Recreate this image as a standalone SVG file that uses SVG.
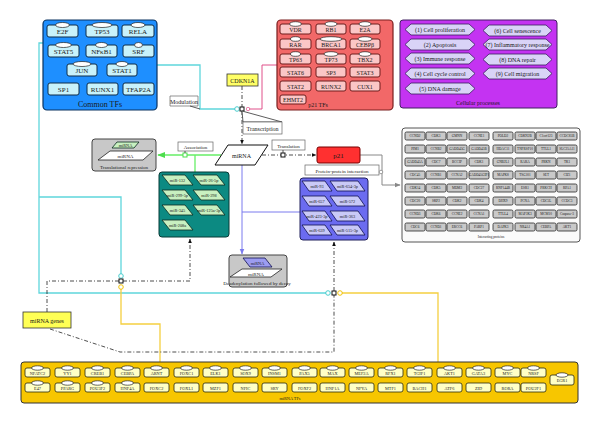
<svg xmlns="http://www.w3.org/2000/svg" width="600" height="424" viewBox="0 0 600 424">
<defs>
<style>
text{font-family:"Liberation Serif","DejaVu Serif",serif;fill:#1a1a1a;text-anchor:middle}
.ctf{fill:#c8f2fb;stroke:#0e2c48;stroke-width:1}
.p21n{fill:#fbc6c6;stroke:#6e1c1c;stroke-width:1}
.ell{fill:#fff;stroke:#222;stroke-width:.7}
.cp{fill:#d9d3f7;stroke:#3a2060;stroke-width:.8}
.ip{fill:#c9c9c9;stroke:#2a2a2a;stroke-width:.8}
.tf{fill:#ffffc6;stroke:#2a2a10;stroke-width:.8}
.lbl{fill:#fff;stroke:#666;stroke-width:.7}
.dd{fill:none;stroke:#222;stroke-width:.8;stroke-dasharray:4 2 1 2}
.gm{fill:#c8f0c0;stroke:#0a2a20;stroke-width:.8}
.bm{fill:#c9c9f7;stroke:#101050;stroke-width:.8}
.jn{fill:#fff;stroke:#111;stroke-width:1}
.s7{font-size:7px}
.s6{font-size:6px}
.s5{font-size:5px}
.s4{font-size:4.3px}
.s3{font-size:3.4px}
</style>
<marker id="ab" viewBox="0 0 10 10" refX="9" refY="5" markerWidth="6" markerHeight="6" orient="auto-start-reverse"><path d="M0,1 L10,5 L0,9z" fill="#111"/></marker>
<marker id="ag" viewBox="0 0 10 10" refX="9" refY="5" markerWidth="6" markerHeight="6" orient="auto"><path d="M0,1 L10,5 L0,9z" fill="#4ddd4d"/></marker>
<marker id="abl" viewBox="0 0 10 10" refX="9" refY="5" markerWidth="6" markerHeight="6" orient="auto"><path d="M0,1 L10,5 L0,9z" fill="#7a7aee"/></marker>
<marker id="agr" viewBox="0 0 10 10" refX="9" refY="5" markerWidth="6" markerHeight="6" orient="auto"><path d="M0,1 L10,5 L0,9z" fill="#888"/></marker>
<marker id="oc" viewBox="0 0 10 10" refX="5" refY="5" markerWidth="5" markerHeight="5" orient="auto"><circle cx="5" cy="5" r="3.5" fill="#fff" stroke="#4cc" stroke-width="1.5"/></marker>
<marker id="oy" viewBox="0 0 10 10" refX="5" refY="5" markerWidth="5" markerHeight="5" orient="auto"><circle cx="5" cy="5" r="3.5" fill="#fff" stroke="#f0c000" stroke-width="1.5"/></marker>
<marker id="op" viewBox="0 0 10 10" refX="5" refY="5" markerWidth="5" markerHeight="5" orient="auto"><circle cx="5" cy="5" r="3.5" fill="#fff" stroke="#e0508a" stroke-width="1.5"/></marker>
</defs>
<rect width="600" height="424" fill="#fff"/>

<g id="connectors">
  <!-- cyan -->
  <polyline points="157,65 200,65 200,109 237,109" fill="none" stroke="#5fd6dc" stroke-width="1.3" marker-end="url(#oc)"/>
  <polyline points="43,43 39,43 39,293 328,293" fill="none" stroke="#5fd6dc" stroke-width="1.3" marker-end="url(#oc)"/>
  <polyline points="39,197 121,197 121,276" fill="none" stroke="#5fd6dc" stroke-width="1.3" marker-end="url(#oc)"/>
  <!-- pink -->
  <polyline points="277,65 262,65 262,109 248,109" fill="none" stroke="#e0508a" stroke-width="1" marker-end="url(#op)"/>
  <!-- yellow -->
  <polyline points="340,293 438,293 438,362" fill="none" stroke="#f5cf40" stroke-width="1.3" marker-start="url(#oy)"/>
  <polyline points="121,287 121,324 160,324 160,362" fill="none" stroke="#f5cf40" stroke-width="1.3" marker-start="url(#oy)"/>
  <!-- transcription -->
  <line x1="242" y1="86" x2="242" y2="107" class="dd"/>
  <line x1="242" y1="111" x2="242" y2="144" class="dd" marker-end="url(#ab)"/>
  <!-- translation -->
  <line x1="262" y1="155" x2="316" y2="155" class="dd" marker-end="url(#ab)"/>
  <!-- association -->
  <line x1="221" y1="155" x2="158" y2="155" stroke="#66ee66" stroke-width="1.3" marker-end="url(#ag)"/>
  <line x1="195" y1="155" x2="195" y2="172" stroke="#66ee66" stroke-width="1.3"/>
  <!-- blue to deadenylation -->
  <line x1="242" y1="165" x2="242" y2="254" stroke="#7a7aee" stroke-width="1" marker-end="url(#abl)"/>
  <line x1="242" y1="212" x2="300" y2="212" stroke="#7a7aee" stroke-width="1"/>
  <!-- p21 to proteins -->
  <polyline points="360,155 382,155 382,185 400,185" fill="none" stroke="#888" stroke-width="1" marker-end="url(#agr)"/>
  <!-- miRNA genes dash-dot -->
  <polyline points="47,312 47,281 119,281" class="dd"/>
  <polyline points="123,281 190,281 190,239" class="dd" marker-end="url(#ab)"/>
  <line x1="334" y1="291" x2="334" y2="242" class="dd" marker-end="url(#ab)"/>
  <polyline points="50,329 120,352 334,352 334,295" class="dd"/>
  <!-- junctions -->
  <rect x="240" y="107" width="4" height="4" class="jn"/>
  <rect x="281" y="153" width="4" height="4" class="jn"/>
  <rect x="183" y="153" width="4" height="4" fill="#fff" stroke="#4ddd4d"/>
  <rect x="119" y="279" width="4" height="4" class="jn"/>
  <rect x="332" y="291" width="4" height="4" class="jn"/>
</g>

<g id="common-tfs">
  <rect x="43" y="20" width="114" height="90" rx="4" fill="#1e8fff" stroke="#0a3360" stroke-width="1.2"/>
  <rect x="47" y="25" width="31" height="12" rx="2" class="ctf"/><ellipse cx="62.5" cy="25" rx="7" ry="2.5" class="ell"/><text x="62.5" y="34" class="s7">E2F</text>
  <rect x="86" y="25" width="32" height="12" rx="2" class="ctf"/><ellipse cx="102" cy="25" rx="10" ry="2.5" class="ell"/><text x="102" y="34" class="s7">TP53</text>
  <rect x="122" y="25" width="32" height="12" rx="2" class="ctf"/><ellipse cx="138" cy="25" rx="7" ry="2.5" class="ell"/><text x="138" y="34" class="s7">RELA</text>
  <rect x="48" y="45" width="31" height="12" rx="2" class="ctf"/><ellipse cx="63.5" cy="45" rx="8" ry="2.5" class="ell"/><text x="63.5" y="54" class="s7">STAT5</text>
  <rect x="86" y="45" width="31" height="12" rx="2" class="ctf"/><ellipse cx="101.5" cy="45" rx="6" ry="2.5" class="ell"/><text x="101.5" y="54" class="s7">NFκB1</text>
  <rect x="123" y="45" width="31" height="12" rx="2" class="ctf"/><ellipse cx="138.5" cy="45" rx="4" ry="2.5" class="ell"/><text x="138.5" y="54" class="s7">SRF</text>
  <rect x="67" y="64" width="30" height="12" rx="2" class="ctf"/><ellipse cx="82" cy="64" rx="9" ry="2.5" class="ell"/><text x="82" y="73" class="s7">JUN</text>
  <rect x="107" y="64" width="30" height="12" rx="2" class="ctf"/><ellipse cx="122" cy="64" rx="6" ry="2.5" class="ell"/><text x="122" y="73" class="s7">STAT1</text>
  <rect x="48" y="83" width="31" height="12" rx="2" class="ctf"/><text x="63.5" y="92" class="s7">SP1</text>
  <rect x="87" y="83" width="31" height="12" rx="2" class="ctf"/><text x="102.5" y="92" class="s7">RUNX1</text>
  <rect x="123" y="83" width="31" height="12" rx="2" class="ctf"/><text x="138.5" y="92" class="s7">TFAP2A</text>
  <text x="100" y="107" style="font-size:8px">Common TFs</text>
</g>

<g id="modulation">
  <polygon points="170,96 198,96 198,106 170,106" class="lbl"/>
  <line x1="190" y1="106" x2="200" y2="109" stroke="#333" stroke-width=".8"/>
  <text x="184" y="103.5" class="s6">Modulation</text>
</g>

<g id="p21-tfs">
  <rect x="277" y="20" width="116" height="90" rx="4" fill="#f26868" stroke="#7a1e1e" stroke-width="1.2"/>
  <rect x="280" y="24" width="31" height="10" rx="2" class="p21n"/><ellipse cx="295.5" cy="24" rx="6" ry="2.3" class="ell"/><text x="295.5" y="32" class="s6">VDR</text>
  <rect x="316" y="24" width="30" height="10" rx="2" class="p21n"/><ellipse cx="331" cy="24" rx="6" ry="2.3" class="ell"/><text x="331" y="32" class="s6">RB1</text>
  <rect x="350" y="24" width="30" height="10" rx="2" class="p21n"/><ellipse cx="365" cy="24" rx="6" ry="2.3" class="ell"/><text x="365" y="32" class="s6">E2A</text>
  <rect x="280" y="39" width="31" height="10" rx="2" class="p21n"/><ellipse cx="295.5" cy="39" rx="5" ry="2.3" class="ell"/><text x="295.5" y="47" class="s6">RAR</text>
  <rect x="316" y="39" width="30" height="10" rx="2" class="p21n"/><ellipse cx="331" cy="39" rx="11" ry="2.3" class="ell"/><text x="331" y="47" class="s6">BRCA1</text>
  <rect x="350" y="39" width="30" height="10" rx="2" class="p21n"/><ellipse cx="365" cy="39" rx="7" ry="2.3" class="ell"/><text x="365" y="47" class="s6">CEBPβ</text>
  <rect x="280" y="54" width="31" height="10" rx="2" class="p21n"/><ellipse cx="295.5" cy="54" rx="5" ry="2.3" class="ell"/><text x="295.5" y="62" class="s6">TP63</text>
  <rect x="316" y="54" width="30" height="10" rx="2" class="p21n"/><ellipse cx="331" cy="54" rx="7" ry="2.3" class="ell"/><text x="331" y="62" class="s6">TP73</text>
  <rect x="350" y="54" width="30" height="10" rx="2" class="p21n"/><ellipse cx="365" cy="54" rx="6" ry="2.3" class="ell"/><text x="365" y="62" class="s6">TBX2</text>
  <rect x="280" y="67" width="31" height="10" rx="2" class="p21n"/><text x="295.5" y="75" class="s6">STAT6</text>
  <rect x="316" y="67" width="30" height="10" rx="2" class="p21n"/><text x="331" y="75" class="s6">SP3</text>
  <rect x="350" y="67" width="30" height="10" rx="2" class="p21n"/><text x="365" y="75" class="s6">STAT3</text>
  <rect x="280" y="81" width="31" height="10" rx="2" class="p21n"/><text x="295.5" y="89" class="s6">STAT2</text>
  <rect x="316" y="81" width="30" height="10" rx="2" class="p21n"/><text x="331" y="89" class="s6">RUNX2</text>
  <rect x="350" y="81" width="30" height="10" rx="2" class="p21n"/><text x="365" y="89" class="s6">CUX1</text>
  <rect x="280" y="95" width="26" height="9" rx="2" class="p21n"/><text x="293" y="102" class="s6">EHMT2</text>
  <text x="318" y="107" class="s6">p21  TFs</text>
</g>

<g id="cdkn1a">
  <rect x="227" y="74" width="31" height="12" fill="#ffff66" stroke="#333" stroke-width=".8"/>
  <text x="242.5" y="82.5" class="s6">CDKN1A</text>
</g>

<g id="processes">
  <rect x="400" y="20" width="157" height="88" rx="3" fill="#c433f2" stroke="#402060" stroke-width="1"/>
  <polygon points="411,24 469,24 475,29.5 469,35 411,35 405,29.5" class="cp"/><text x="440" y="31.5" class="s6">(1) Cell proliferation</text>
  <polygon points="411,39 469,39 475,44.5 469,50 411,50 405,44.5" class="cp"/><text x="440" y="46.5" class="s6">(2) Apoptosis</text>
  <polygon points="411,53 469,53 475,58.5 469,64 411,64 405,58.5" class="cp"/><text x="440" y="60.5" class="s6">(3) Immune response</text>
  <polygon points="411,68 469,68 475,73.5 469,79 411,79 405,73.5" class="cp"/><text x="440" y="75.5" class="s6">(4) Cell cycle control</text>
  <polygon points="411,83 469,83 475,88.5 469,94 411,94 405,88.5" class="cp"/><text x="440" y="90.5" class="s6">(5) DNA damage</text>
  <polygon points="489,25 546,25 552,30.5 546,36 489,36 483,30.5" class="cp"/><text x="517.5" y="32.5" class="s6">(6) Cell senescence</text>
  <polygon points="489,39 546,39 552,44.5 546,50 489,50 483,44.5" class="cp"/><text x="517.5" y="46.5" class="s6">(7) Inflammatory response</text>
  <polygon points="489,54 546,54 552,59.5 546,65 489,65 483,59.5" class="cp"/><text x="517.5" y="61.5" class="s6">(8) DNA repair</text>
  <polygon points="489,68 546,68 552,73.5 546,79 489,79 483,73.5" class="cp"/><text x="517.5" y="75.5" class="s6">(9) Cell migration</text>
  <text x="478" y="105" class="s6">Cellular processes</text>
</g>

<g id="transcription-label">
  <polygon points="243,122 242,111 282,122" fill="#fff" stroke="#333" stroke-width=".8"/>
  <rect x="243" y="122" width="39" height="12" class="lbl"/>
  <text x="262.5" y="130.5" class="s6">Transcription</text>
</g>

<g id="mirna">
  <polygon points="228,145 268,145 255,165 215,165" fill="#fff" stroke="#111" stroke-width="1"/>
  <text x="241.5" y="157.5" class="s6">miRNA</text>
</g>

<g id="translation-label">
  <rect x="272" y="140" width="33" height="10" class="lbl"/>
  <line x1="283" y1="150" x2="283" y2="153" stroke="#333" stroke-width=".8"/>
  <text x="288.5" y="147.5" class="s5">Translation</text>
</g>

<g id="p21">
  <rect x="317" y="147" width="43" height="16" rx="2" fill="#ff3030" stroke="#700" stroke-width="1"/>
  <text x="338.5" y="158" class="s7">p21</text>
</g>

<g id="ppi-label">
  <rect x="305" y="165" width="74" height="10" class="lbl"/>
  <circle cx="381" cy="172" r="1.8" fill="#fff" stroke="#888" stroke-width=".8"/>
  <text x="342" y="172.5" class="s5">Protein-protein interaction</text>
</g>

<g id="association-label">
  <rect x="178" y="142" width="35" height="9" class="lbl"/>
  <line x1="185" y1="151" x2="185" y2="153" stroke="#333" stroke-width=".8"/>
  <text x="195.5" y="149" class="s5">Association</text>
</g>

<g id="translational-repression">
  <rect x="92" y="139" width="64" height="32" rx="3" fill="#c8c8c8" stroke="#444" stroke-width="1"/>
  <polygon points="117,142 139,142 134,148 112,148" class="gm"/><text x="125.5" y="147" class="s4">miRNA</text>
  <polygon points="110,151 153,151 143,160 98,160" fill="#fff" stroke="#222" stroke-width=".8"/><text x="125.5" y="158" class="s5">miRNA</text>
  <text x="124" y="168.5" class="s5">Translational repression</text>
</g>

<g id="teal-mirnas">
  <rect x="159" y="172" width="70" height="65" rx="3" fill="#0c8a82" stroke="#073a36" stroke-width="1"/>
  <polygon points="162,175 185,175 193,185 170,185" class="gm"/><text x="177.5" y="182" class="s4">miR-132</text>
  <polygon points="193,175 217,175 225,185 201,185" class="gm"/><text x="209" y="182" class="s4">miR-26-5p</text>
  <polygon points="162,190 185,190 193,200 170,200" class="gm"/><text x="177.5" y="197" class="s4">miR-299-5p</text>
  <polygon points="193,190 217,190 225,200 201,200" class="gm"/><text x="209" y="197" class="s4">miR-298</text>
  <polygon points="162,205 185,205 193,215 170,215" class="gm"/><text x="177.5" y="212" class="s4">miR-345</text>
  <polygon points="193,205 217,205 225,215 201,215" class="gm"/><text x="209" y="212" class="s4">miR-125a-3p</text>
  <polygon points="162,220 185,220 193,230 170,230" class="gm"/><text x="177.5" y="227" class="s4">miR-208a</text>
</g>

<g id="blue-mirnas">
  <rect x="300" y="178" width="68" height="62" rx="3" fill="#6b6bf0" stroke="#20205a" stroke-width="1"/>
  <polygon points="302,181 325,181 332,191 309,191" class="bm"/><text x="317" y="188" class="s4">miR-93</text>
  <polygon points="330,181 358,181 365,191 337,191" class="bm"/><text x="347.5" y="188" class="s4">miR-654-3p</text>
  <polygon points="302,196 325,196 332,206 309,206" class="bm"/><text x="317" y="203" class="s4">miR-657</text>
  <polygon points="330,196 358,196 365,206 337,206" class="bm"/><text x="347.5" y="203" class="s4">miR-572</text>
  <polygon points="302,211 325,211 332,221 309,221" class="bm"/><text x="317" y="218" class="s4">miR-423-3p</text>
  <polygon points="330,211 358,211 365,221 337,221" class="bm"/><text x="347.5" y="218" class="s4">miR-363</text>
  <polygon points="302,225 325,225 332,235 309,235" class="bm"/><text x="317" y="232" class="s4">miR-639</text>
  <polygon points="330,225 358,225 365,235 337,235" class="bm"/><text x="347.5" y="232" class="s4">miR-515-3p</text>
</g>

<g id="deadenylation">
  <rect x="229" y="255" width="58" height="32" rx="3" fill="#c8c8c8" stroke="#444" stroke-width="1"/>
  <polygon points="243,258 265,258 272,267 250,267" fill="#9c9cf0" stroke="#101050" stroke-width=".8"/><text x="257.5" y="265" class="s4">miRNA</text>
  <polygon points="242,269 282,269 271,277 230,277" fill="#fff" stroke="#222" stroke-width=".8"/><text x="256" y="275.5" class="s5">miRNA</text>
  <text x="257" y="285" class="s5">Deadenylation followed by decay</text>
</g>

<g id="interacting-proteins">
  <rect x="402" y="128" width="178" height="114" rx="3" fill="#fbfbfb" stroke="#555" stroke-width="1"/>
  <g class="s3">
  <rect x="405" y="132" width="20" height="8" rx="1.5" class="ip"/><text x="415" y="137.3" class="s3">CCND2</text>
  <rect x="426" y="132" width="20" height="8" rx="1.5" class="ip"/><text x="436" y="137.3" class="s3">CDK3</text>
  <rect x="447" y="132" width="20" height="8" rx="1.5" class="ip"/><text x="457" y="137.3" class="s3">GMNN</text>
  <rect x="469" y="132" width="20" height="8" rx="1.5" class="ip"/><text x="479" y="137.3" class="s3">CCNE1</text>
  <rect x="493" y="132" width="20" height="8" rx="1.5" class="ip"/><text x="503" y="137.3" class="s3">POLD2</text>
  <rect x="515" y="132" width="20" height="8" rx="1.5" class="ip"/><text x="525" y="137.3" class="s3">CDKN2B</text>
  <rect x="536" y="132" width="20" height="8" rx="1.5" class="ip"/><text x="546" y="137.3" class="s3">C1orf123</text>
  <rect x="557" y="132" width="20" height="8" rx="1.5" class="ip"/><text x="567" y="137.3" class="s3">CCDC85B</text>

  <rect x="405" y="145" width="20" height="8" rx="1.5" class="ip"/><text x="415" y="150.3" class="s3">PIM1</text>
  <rect x="426" y="145" width="20" height="8" rx="1.5" class="ip"/><text x="436" y="150.3" class="s3">CCNB2</text>
  <rect x="447" y="145" width="20" height="8" rx="1.5" class="ip"/><text x="457" y="150.3" class="s3">GADD45G</text>
  <rect x="469" y="145" width="20" height="8" rx="1.5" class="ip"/><text x="479" y="150.3" class="s3">GADD45B</text>
  <rect x="493" y="145" width="20" height="8" rx="1.5" class="ip"/><text x="503" y="150.3" class="s3">HDAC11</text>
  <rect x="515" y="145" width="20" height="8" rx="1.5" class="ip"/><text x="525" y="150.3" class="s3">TNFRSF10</text>
  <rect x="536" y="145" width="20" height="8" rx="1.5" class="ip"/><text x="546" y="150.3" class="s3">TTLL1</text>
  <rect x="557" y="145" width="20" height="8" rx="1.5" class="ip"/><text x="567" y="150.3" class="s3">SLC25A11</text>

  <rect x="405" y="158" width="20" height="8" rx="1.5" class="ip"/><text x="415" y="163.3" class="s3">GADD45A</text>
  <rect x="426" y="158" width="20" height="8" rx="1.5" class="ip"/><text x="436" y="163.3" class="s3">CDC7</text>
  <rect x="447" y="158" width="20" height="8" rx="1.5" class="ip"/><text x="457" y="163.3" class="s3">BCCIP</text>
  <rect x="469" y="158" width="20" height="8" rx="1.5" class="ip"/><text x="479" y="163.3" class="s3">CDK1</text>
  <rect x="493" y="158" width="20" height="8" rx="1.5" class="ip"/><text x="503" y="163.3" class="s3">GNB2L1</text>
  <rect x="515" y="158" width="20" height="8" rx="1.5" class="ip"/><text x="525" y="163.3" class="s3">RARA</text>
  <rect x="536" y="158" width="20" height="8" rx="1.5" class="ip"/><text x="546" y="163.3" class="s3">PRKN</text>
  <rect x="557" y="158" width="20" height="8" rx="1.5" class="ip"/><text x="567" y="163.3" class="s3">TK1</text>

  <rect x="405" y="171" width="20" height="8" rx="1.5" class="ip"/><text x="415" y="176.3" class="s3">CDC45</text>
  <rect x="426" y="171" width="20" height="8" rx="1.5" class="ip"/><text x="436" y="176.3" class="s3">CCNB1</text>
  <rect x="447" y="171" width="20" height="8" rx="1.5" class="ip"/><text x="457" y="176.3" class="s3">CCNA2</text>
  <rect x="469" y="171" width="20" height="8" rx="1.5" class="ip"/><text x="479" y="176.3" class="s3">GADD45GIP1</text>
  <rect x="493" y="171" width="20" height="8" rx="1.5" class="ip"/><text x="503" y="176.3" class="s3">MAPK8</text>
  <rect x="515" y="171" width="20" height="8" rx="1.5" class="ip"/><text x="525" y="176.3" class="s3">TSG101</text>
  <rect x="536" y="171" width="20" height="8" rx="1.5" class="ip"/><text x="546" y="176.3" class="s3">SET</text>
  <rect x="557" y="171" width="20" height="8" rx="1.5" class="ip"/><text x="567" y="176.3" class="s3">CIZ1</text>

  <rect x="405" y="184" width="20" height="8" rx="1.5" class="ip"/><text x="415" y="189.3" class="s3">CDK14</text>
  <rect x="426" y="184" width="20" height="8" rx="1.5" class="ip"/><text x="436" y="189.3" class="s3">CDK5</text>
  <rect x="447" y="184" width="20" height="8" rx="1.5" class="ip"/><text x="457" y="189.3" class="s3">MDM2</text>
  <rect x="469" y="184" width="20" height="8" rx="1.5" class="ip"/><text x="479" y="189.3" class="s3">CDC27</text>
  <rect x="493" y="184" width="20" height="8" rx="1.5" class="ip"/><text x="503" y="189.3" class="s3">RNF144B</text>
  <rect x="515" y="184" width="20" height="8" rx="1.5" class="ip"/><text x="525" y="189.3" class="s3">ESR1</text>
  <rect x="536" y="184" width="20" height="8" rx="1.5" class="ip"/><text x="546" y="189.3" class="s3">PRKCH</text>
  <rect x="557" y="184" width="20" height="8" rx="1.5" class="ip"/><text x="567" y="189.3" class="s3">RPA1</text>

  <rect x="405" y="197" width="20" height="8" rx="1.5" class="ip"/><text x="415" y="202.3" class="s3">CDC20</text>
  <rect x="426" y="197" width="20" height="8" rx="1.5" class="ip"/><text x="436" y="202.3" class="s3">SKP2</text>
  <rect x="447" y="197" width="20" height="8" rx="1.5" class="ip"/><text x="457" y="202.3" class="s3">CDK2</text>
  <rect x="469" y="197" width="20" height="8" rx="1.5" class="ip"/><text x="479" y="202.3" class="s3">CDK4</text>
  <rect x="493" y="197" width="20" height="8" rx="1.5" class="ip"/><text x="503" y="202.3" class="s3">DHX9</text>
  <rect x="515" y="197" width="20" height="8" rx="1.5" class="ip"/><text x="525" y="202.3" class="s3">PCNA</text>
  <rect x="536" y="197" width="20" height="8" rx="1.5" class="ip"/><text x="546" y="202.3" class="s3">CDC5L</text>
  <rect x="557" y="197" width="20" height="8" rx="1.5" class="ip"/><text x="567" y="202.3" class="s3">CCDC3</text>

  <rect x="405" y="210" width="20" height="8" rx="1.5" class="ip"/><text x="415" y="215.3" class="s3">CCND3</text>
  <rect x="426" y="210" width="20" height="8" rx="1.5" class="ip"/><text x="436" y="215.3" class="s3">CDK6</text>
  <rect x="447" y="210" width="20" height="8" rx="1.5" class="ip"/><text x="457" y="215.3" class="s3">CCNE2</text>
  <rect x="469" y="210" width="20" height="8" rx="1.5" class="ip"/><text x="479" y="215.3" class="s3">CCNA1</text>
  <rect x="493" y="210" width="20" height="8" rx="1.5" class="ip"/><text x="503" y="215.3" class="s3">TTLL4</text>
  <rect x="515" y="210" width="20" height="8" rx="1.5" class="ip"/><text x="525" y="215.3" class="s3">MAP3K3</text>
  <rect x="536" y="210" width="20" height="8" rx="1.5" class="ip"/><text x="546" y="215.3" class="s3">MCM10</text>
  <rect x="557" y="210" width="20" height="8" rx="1.5" class="ip"/><text x="567" y="215.3" class="s3">Caspase-3</text>

  <rect x="405" y="223" width="20" height="8" rx="1.5" class="ip"/><text x="415" y="228.3" class="s3">CDC6</text>
  <rect x="426" y="223" width="20" height="8" rx="1.5" class="ip"/><text x="436" y="228.3" class="s3">CCND1</text>
  <rect x="447" y="223" width="20" height="8" rx="1.5" class="ip"/><text x="457" y="228.3" class="s3">ERCC6</text>
  <rect x="469" y="223" width="20" height="8" rx="1.5" class="ip"/><text x="479" y="228.3" class="s3">PARP1</text>
  <rect x="493" y="223" width="20" height="8" rx="1.5" class="ip"/><text x="503" y="228.3" class="s3">DAPK3</text>
  <rect x="515" y="223" width="20" height="8" rx="1.5" class="ip"/><text x="525" y="228.3" class="s3">NR4A1</text>
  <rect x="536" y="223" width="20" height="8" rx="1.5" class="ip"/><text x="546" y="228.3" class="s3">CEBPA</text>
  <rect x="557" y="223" width="20" height="8" rx="1.5" class="ip"/><text x="567" y="228.3" class="s3">AKT1</text>
  </g>
  <text x="491" y="238" class="s3">Interacting proteins</text>
</g>

<g id="mirna-genes">
  <rect x="23" y="312" width="48" height="16" fill="#ffff55" stroke="#333" stroke-width=".8"/>
  <text x="47" y="322.5" class="s6">miRNA genes</text>
</g>

<g id="mirna-tfs">
  <rect x="21" y="362" width="557" height="41" rx="3" fill="#f7c600" stroke="#333" stroke-width="1"/>
  <g id="tf-row1">
  <rect x="25" y="368" width="25" height="9" rx="2" class="tf"/><ellipse cx="37.5" cy="368" rx="6" ry="2.2" class="ell"/><text x="37.5" y="375" class="s4">NFATC2</text>
  <rect x="55" y="368" width="25" height="9" rx="2" class="tf"/><ellipse cx="67.5" cy="368" rx="6" ry="2.2" class="ell"/><text x="67.5" y="375" class="s4">YY1</text>
  <rect x="85" y="368" width="25" height="9" rx="2" class="tf"/><ellipse cx="97.5" cy="368" rx="6" ry="2.2" class="ell"/><text x="97.5" y="375" class="s4">CREB1</text>
  <rect x="115" y="368" width="25" height="9" rx="2" class="tf"/><ellipse cx="127.5" cy="368" rx="6" ry="2.2" class="ell"/><text x="127.5" y="375" class="s4">CEBPA</text>
  <rect x="144" y="368" width="25" height="9" rx="2" class="tf"/><ellipse cx="156.5" cy="368" rx="6" ry="2.2" class="ell"/><text x="156.5" y="375" class="s4">ARNT</text>
  <rect x="174" y="368" width="25" height="9" rx="2" class="tf"/><ellipse cx="186.5" cy="368" rx="6" ry="2.2" class="ell"/><text x="186.5" y="375" class="s4">FOXC1</text>
  <rect x="203" y="368" width="25" height="9" rx="2" class="tf"/><ellipse cx="215.5" cy="368" rx="6" ry="2.2" class="ell"/><text x="215.5" y="375" class="s4">ELK1</text>
  <rect x="233" y="368" width="25" height="9" rx="2" class="tf"/><ellipse cx="245.5" cy="368" rx="6" ry="2.2" class="ell"/><text x="245.5" y="375" class="s4">SOX9</text>
  <rect x="262" y="368" width="25" height="9" rx="2" class="tf"/><ellipse cx="274.5" cy="368" rx="6" ry="2.2" class="ell"/><text x="274.5" y="375" class="s4">INSM1</text>
  <rect x="292" y="368" width="25" height="9" rx="2" class="tf"/><ellipse cx="304.5" cy="368" rx="6" ry="2.2" class="ell"/><text x="304.5" y="375" class="s4">PAX5</text>
  <rect x="320" y="368" width="25" height="9" rx="2" class="tf"/><ellipse cx="332.5" cy="368" rx="6" ry="2.2" class="ell"/><text x="332.5" y="375" class="s4">MAX</text>
  <rect x="349" y="368" width="25" height="9" rx="2" class="tf"/><ellipse cx="361.5" cy="368" rx="6" ry="2.2" class="ell"/><text x="361.5" y="375" class="s4">MEF2A</text>
  <rect x="378" y="368" width="25" height="9" rx="2" class="tf"/><ellipse cx="390.5" cy="368" rx="6" ry="2.2" class="ell"/><text x="390.5" y="375" class="s4">RFX1</text>
  <rect x="407" y="368" width="25" height="9" rx="2" class="tf"/><ellipse cx="419.5" cy="368" rx="6" ry="2.2" class="ell"/><text x="419.5" y="375" class="s4">TGIF1</text>
  <rect x="437" y="368" width="25" height="9" rx="2" class="tf"/><ellipse cx="449.5" cy="368" rx="6" ry="2.2" class="ell"/><text x="449.5" y="375" class="s4">AKT1</text>
  <rect x="466" y="368" width="25" height="9" rx="2" class="tf"/><ellipse cx="478.5" cy="368" rx="6" ry="2.2" class="ell"/><text x="478.5" y="375" class="s4">GATA3</text>
  <rect x="495" y="368" width="25" height="9" rx="2" class="tf"/><ellipse cx="507.5" cy="368" rx="6" ry="2.2" class="ell"/><text x="507.5" y="375" class="s4">MYC</text>
  <rect x="521" y="368" width="25" height="9" rx="2" class="tf"/><ellipse cx="533.5" cy="368" rx="6" ry="2.2" class="ell"/><text x="533.5" y="375" class="s4">NRSF</text>
  </g>
  <g id="tf-row2">
  <rect x="25" y="383" width="25" height="9" rx="2" class="tf"/><ellipse cx="37.5" cy="383" rx="6" ry="2.2" class="ell"/><text x="37.5" y="390" class="s4">E47</text>
  <rect x="55" y="383" width="25" height="9" rx="2" class="tf"/><ellipse cx="67.5" cy="383" rx="6" ry="2.2" class="ell"/><text x="67.5" y="390" class="s4">PPARG</text>
  <rect x="85" y="383" width="25" height="9" rx="2" class="tf"/><ellipse cx="97.5" cy="383" rx="6" ry="2.2" class="ell"/><text x="97.5" y="390" class="s4">POU3F2</text>
  <rect x="115" y="383" width="25" height="9" rx="2" class="tf"/><ellipse cx="127.5" cy="383" rx="6" ry="2.2" class="ell"/><text x="127.5" y="390" class="s4">HNF4A</text>
  <rect x="144" y="383" width="25" height="9" rx="2" class="tf"/><text x="156.5" y="390" class="s4">FOXC2</text>
  <rect x="174" y="383" width="25" height="9" rx="2" class="tf"/><text x="186.5" y="390" class="s4">FOXL1</text>
  <rect x="203" y="383" width="25" height="9" rx="2" class="tf"/><text x="215.5" y="390" class="s4">MZF1</text>
  <rect x="233" y="383" width="25" height="9" rx="2" class="tf"/><text x="245.5" y="390" class="s4">NFIC</text>
  <rect x="262" y="383" width="25" height="9" rx="2" class="tf"/><text x="274.5" y="390" class="s4">SRY</text>
  <rect x="292" y="383" width="25" height="9" rx="2" class="tf"/><text x="304.5" y="390" class="s4">FOXF2</text>
  <rect x="320" y="383" width="25" height="9" rx="2" class="tf"/><text x="332.5" y="390" class="s4">HNF1A</text>
  <rect x="349" y="383" width="25" height="9" rx="2" class="tf"/><text x="361.5" y="390" class="s4">NFYA</text>
  <rect x="378" y="383" width="25" height="9" rx="2" class="tf"/><text x="390.5" y="390" class="s4">MTF1</text>
  <rect x="407" y="383" width="25" height="9" rx="2" class="tf"/><text x="419.5" y="390" class="s4">BACH1</text>
  <rect x="437" y="383" width="25" height="9" rx="2" class="tf"/><text x="449.5" y="390" class="s4">ATF6</text>
  <rect x="466" y="383" width="25" height="9" rx="2" class="tf"/><text x="478.5" y="390" class="s4">ZID</text>
  <rect x="495" y="383" width="25" height="9" rx="2" class="tf"/><text x="507.5" y="390" class="s4">RORA</text>
  <rect x="521" y="383" width="25" height="9" rx="2" class="tf"/><text x="533.5" y="390" class="s4">POU2F1</text>
  </g>
  <rect x="550" y="375" width="24" height="10" rx="2" class="tf"/><ellipse cx="562" cy="375" rx="6" ry="2.2" class="ell"/><text x="562" y="382" class="s4">EGR1</text>
  <text x="290" y="400" class="s4">miRNA TFs</text>
</g>
</svg>
